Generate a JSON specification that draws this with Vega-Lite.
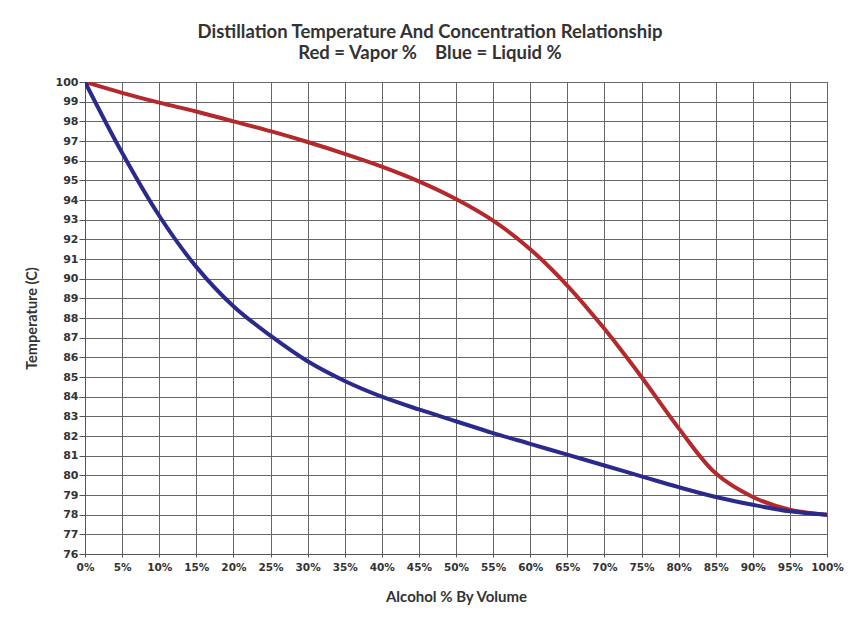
{
  "$schema": "https://vega.github.io/schema/vega-lite/v6.json",
  "autosize": "none",
  "padding": {"left": 85, "top": 82, "right": 24, "bottom": 65},
  "width": 742,
  "height": 472,
  "background": "white",
  "title": {
    "text": ["Distillation Temperature And Concentration Relationship", "Red = Vapor %\u00a0\u00a0\u00a0\u00a0Blue = Liquid %"],
    "font": "Lato",
    "fontSize": 18.5,
    "fontWeight": "bold",
    "color": "#333333",
    "anchor": "middle",
    "dx": -26,
    "offset": 14,
    "lineHeight": 21
  },
  "config": {
    "view": {"stroke": "#555555", "strokeWidth": 1}
  },
  "data": {
    "values": [
      {"pct": 0, "series": "Vapor", "temp": 100},
      {"pct": 5, "series": "Vapor", "temp": 99.45},
      {"pct": 10, "series": "Vapor", "temp": 98.95},
      {"pct": 15, "series": "Vapor", "temp": 98.5},
      {"pct": 20, "series": "Vapor", "temp": 98.0},
      {"pct": 25, "series": "Vapor", "temp": 97.5},
      {"pct": 30, "series": "Vapor", "temp": 96.95},
      {"pct": 35, "series": "Vapor", "temp": 96.35},
      {"pct": 40, "series": "Vapor", "temp": 95.7},
      {"pct": 45, "series": "Vapor", "temp": 94.95},
      {"pct": 50, "series": "Vapor", "temp": 94.05},
      {"pct": 55, "series": "Vapor", "temp": 92.95},
      {"pct": 60, "series": "Vapor", "temp": 91.5},
      {"pct": 65, "series": "Vapor", "temp": 89.65},
      {"pct": 70, "series": "Vapor", "temp": 87.45},
      {"pct": 75, "series": "Vapor", "temp": 85.0},
      {"pct": 80, "series": "Vapor", "temp": 82.4},
      {"pct": 85, "series": "Vapor", "temp": 80.1},
      {"pct": 90, "series": "Vapor", "temp": 78.9},
      {"pct": 95, "series": "Vapor", "temp": 78.25},
      {"pct": 100, "series": "Vapor", "temp": 78.0},
      {"pct": 0, "series": "Liquid", "temp": 100},
      {"pct": 5, "series": "Liquid", "temp": 96.4},
      {"pct": 10, "series": "Liquid", "temp": 93.2},
      {"pct": 15, "series": "Liquid", "temp": 90.6},
      {"pct": 20, "series": "Liquid", "temp": 88.6},
      {"pct": 25, "series": "Liquid", "temp": 87.1},
      {"pct": 30, "series": "Liquid", "temp": 85.8},
      {"pct": 35, "series": "Liquid", "temp": 84.8},
      {"pct": 40, "series": "Liquid", "temp": 84.0},
      {"pct": 45, "series": "Liquid", "temp": 83.35},
      {"pct": 50, "series": "Liquid", "temp": 82.75},
      {"pct": 55, "series": "Liquid", "temp": 82.15},
      {"pct": 60, "series": "Liquid", "temp": 81.6},
      {"pct": 65, "series": "Liquid", "temp": 81.05},
      {"pct": 70, "series": "Liquid", "temp": 80.5},
      {"pct": 75, "series": "Liquid", "temp": 79.95},
      {"pct": 80, "series": "Liquid", "temp": 79.4},
      {"pct": 85, "series": "Liquid", "temp": 78.9},
      {"pct": 90, "series": "Liquid", "temp": 78.5},
      {"pct": 95, "series": "Liquid", "temp": 78.17},
      {"pct": 100, "series": "Liquid", "temp": 78.0}
    ]
  },
  "mark": {"type": "line", "interpolate": "catmull-rom", "strokeWidth": 4, "strokeCap": "round", "clip": true},
  "encoding": {
    "x": {
      "field": "pct",
      "type": "quantitative",
      "scale": {"domain": [0, 100], "nice": false, "zero": false},
      "axis": {
        "values": [0, 5, 10, 15, 20, 25, 30, 35, 40, 45, 50, 55, 60, 65, 70, 75, 80, 85, 90, 95, 100],
        "labelExpr": "datum.value + '%'",
        "title": "Alcohol % By Volume",
        "titleFont": "Lato",
        "titleFontSize": 15,
        "titleFontWeight": "bold",
        "titleColor": "#333333",
        "titlePadding": 17,
        "labelFont": "DejaVu Sans",
        "labelFontSize": 10.5,
        "labelFontWeight": "bold",
        "labelColor": "#333333",
        "labelPadding": 5,
        "labelFlush": false,
        "labelOverlap": false,
        "tickSize": 3,
        "tickColor": "#555555",
        "domainColor": "#555555",
        "gridColor": "#666666",
        "gridOpacity": 1,
        "gridWidth": 1
      }
    },
    "y": {
      "field": "temp",
      "type": "quantitative",
      "scale": {"domain": [76, 100], "nice": false, "zero": false},
      "axis": {
        "values": [76, 77, 78, 79, 80, 81, 82, 83, 84, 85, 86, 87, 88, 89, 90, 91, 92, 93, 94, 95, 96, 97, 98, 99, 100],
        "title": "Temperature (C)",
        "titleFont": "Lato",
        "titleFontSize": 14.5,
        "titleFontWeight": "bold",
        "titleColor": "#333333",
        "titlePadding": 16,
        "labelFont": "DejaVu Sans",
        "labelFontSize": 11,
        "labelFontWeight": "bold",
        "labelColor": "#333333",
        "labelPadding": 1,
        "labelFlush": false,
        "labelOverlap": false,
        "tickSize": 6,
        "tickColor": "#555555",
        "domainColor": "#555555",
        "gridColor": "#666666",
        "gridOpacity": 1,
        "gridWidth": 1
      }
    },
    "color": {
      "field": "series",
      "type": "nominal",
      "scale": {"domain": ["Vapor", "Liquid"], "range": ["#b3292c", "#2b2a8c"]},
      "legend": null
    }
  }
}
